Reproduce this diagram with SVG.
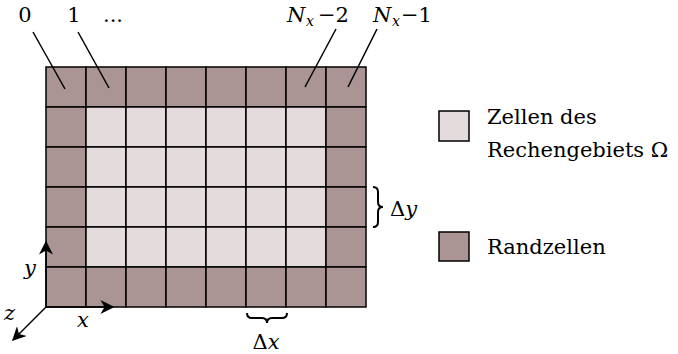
<svg xmlns="http://www.w3.org/2000/svg" width="678" height="354" viewBox="0 0 678 354">
<style>
.b{fill:#aa9494;stroke:#000;stroke-width:1.5}
.i{fill:#e3dbdc;stroke:#000;stroke-width:1.5}
.l{stroke:#000;stroke-width:1.5;fill:none}
.br{stroke:#000;stroke-width:2;fill:none}
</style>
<defs>
<marker id="ar" viewBox="0 0 10 10" refX="9" refY="5" markerWidth="14" markerHeight="14" markerUnits="userSpaceOnUse" orient="auto">
<path d="M0,0 L10,5 L0,10 L3,5 Z" fill="#000"/>
</marker>
</defs>
<g id="grid">
<rect class="b" x="46" y="67" width="40" height="40"/><rect class="b" x="86" y="67" width="40" height="40"/><rect class="b" x="126" y="67" width="40" height="40"/><rect class="b" x="166" y="67" width="40" height="40"/><rect class="b" x="206" y="67" width="40" height="40"/><rect class="b" x="246" y="67" width="40" height="40"/><rect class="b" x="286" y="67" width="40" height="40"/><rect class="b" x="326" y="67" width="40" height="40"/>
<rect class="b" x="46" y="107" width="40" height="40"/><rect class="i" x="86" y="107" width="40" height="40"/><rect class="i" x="126" y="107" width="40" height="40"/><rect class="i" x="166" y="107" width="40" height="40"/><rect class="i" x="206" y="107" width="40" height="40"/><rect class="i" x="246" y="107" width="40" height="40"/><rect class="i" x="286" y="107" width="40" height="40"/><rect class="b" x="326" y="107" width="40" height="40"/>
<rect class="b" x="46" y="147" width="40" height="40"/><rect class="i" x="86" y="147" width="40" height="40"/><rect class="i" x="126" y="147" width="40" height="40"/><rect class="i" x="166" y="147" width="40" height="40"/><rect class="i" x="206" y="147" width="40" height="40"/><rect class="i" x="246" y="147" width="40" height="40"/><rect class="i" x="286" y="147" width="40" height="40"/><rect class="b" x="326" y="147" width="40" height="40"/>
<rect class="b" x="46" y="187" width="40" height="40"/><rect class="i" x="86" y="187" width="40" height="40"/><rect class="i" x="126" y="187" width="40" height="40"/><rect class="i" x="166" y="187" width="40" height="40"/><rect class="i" x="206" y="187" width="40" height="40"/><rect class="i" x="246" y="187" width="40" height="40"/><rect class="i" x="286" y="187" width="40" height="40"/><rect class="b" x="326" y="187" width="40" height="40"/>
<rect class="b" x="46" y="227" width="40" height="40"/><rect class="i" x="86" y="227" width="40" height="40"/><rect class="i" x="126" y="227" width="40" height="40"/><rect class="i" x="166" y="227" width="40" height="40"/><rect class="i" x="206" y="227" width="40" height="40"/><rect class="i" x="246" y="227" width="40" height="40"/><rect class="i" x="286" y="227" width="40" height="40"/><rect class="b" x="326" y="227" width="40" height="40"/>
<rect class="b" x="46" y="267" width="40" height="40"/><rect class="b" x="86" y="267" width="40" height="40"/><rect class="b" x="126" y="267" width="40" height="40"/><rect class="b" x="166" y="267" width="40" height="40"/><rect class="b" x="206" y="267" width="40" height="40"/><rect class="b" x="246" y="267" width="40" height="40"/><rect class="b" x="286" y="267" width="40" height="40"/><rect class="b" x="326" y="267" width="40" height="40"/>
</g>
<g id="connectors">
<line class="l" x1="33" y1="32" x2="65" y2="89"/>
<line class="l" x1="78" y1="32" x2="109" y2="88"/>
<line class="l" x1="336" y1="29" x2="305" y2="87"/>
<line class="l" x1="377" y1="29" x2="348" y2="87"/>
<line class="l" x1="46" y1="307" x2="46" y2="242" marker-end="url(#ar)"/>
<line class="l" x1="46" y1="307" x2="113" y2="307" marker-end="url(#ar)"/>
<line class="l" x1="46" y1="307" x2="13" y2="340" marker-end="url(#ar)"/>
</g>
<g id="labels">
<text x="25" y="22" text-anchor="middle" style="font-family:'DejaVu Serif',serif;font-size:21px">0</text>
<text x="74" y="22" text-anchor="middle" style="font-family:'DejaVu Serif',serif;font-size:21px">1</text>
<text x="113" y="22" text-anchor="middle" style="font-family:'DejaVu Serif',serif;font-size:21px">...</text>
<text y="22" style="font-family:'DejaVu Serif',serif;font-size:21px"><tspan x="287" style="font-style:italic">N</tspan><tspan x="306" y="26" style="font-style:italic;font-size:14px">x</tspan><tspan x="318" y="22">−2</tspan></text>
<text y="22" style="font-family:'DejaVu Serif',serif;font-size:21px"><tspan x="373" style="font-style:italic">N</tspan><tspan x="392" y="26" style="font-style:italic;font-size:14px">x</tspan><tspan x="401" y="22">−1</tspan></text>
<text x="24" y="275" style="font-family:'DejaVu Serif',serif;font-size:21px;font-style:italic">y</text>
<text x="77" y="327" style="font-family:'DejaVu Serif',serif;font-size:21px;font-style:italic">x</text>
<text x="4" y="320" style="font-family:'DejaVu Serif',serif;font-size:21px;font-style:italic">z</text>
</g>
<g id="dy">
<path class="br" d="M373,187 Q378,187 378,192 L378,202 Q378,207 383,207 Q378,207 378,212 L378,222 Q378,227 373,227"/>
<text x="390" y="216" style="font-family:'DejaVu Serif',serif;font-size:21px">Δ<tspan style="font-style:italic">y</tspan></text>
</g>
<g id="dx">
<path class="br" d="M247,313 Q247,318 252,318 L262,318 Q267,318 267,323 Q267,318 272,318 L282,318 Q287,318 287,313"/>
<text x="266" y="349" text-anchor="middle" style="font-family:'DejaVu Serif',serif;font-size:21px">Δ<tspan style="font-style:italic">x</tspan></text>
</g>
<g id="legend-inner">
<rect class="i" x="439" y="111" width="30" height="30"/>
<text x="487" y="124" style="font-family:'DejaVu Serif',serif;font-size:21px">Zellen des</text>
<text x="487" y="157" style="font-family:'DejaVu Serif',serif;font-size:21px">Rechengebiets Ω</text>
</g>
<g id="legend-border">
<rect class="b" x="439" y="232" width="30" height="29"/>
<text x="487" y="254" style="font-family:'DejaVu Serif',serif;font-size:21px">Randzellen</text>
</g>
</svg>
